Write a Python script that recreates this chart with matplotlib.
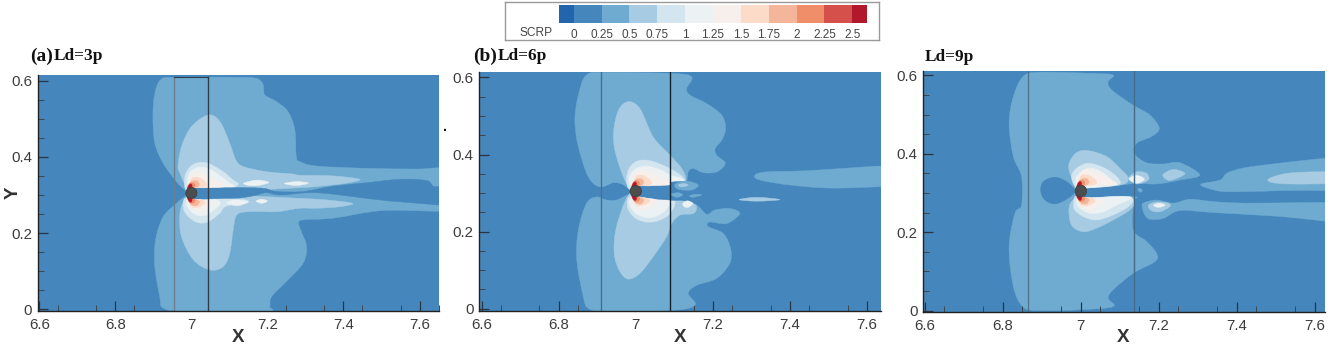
import numpy as np
import matplotlib
matplotlib.use('Agg')
import matplotlib.pyplot as plt
from matplotlib.path import Path
from matplotlib.patches import PathPatch, Circle

W, H = 1329, 345

# colour bar
SCRP_TICKS = [0, 0.25, 0.5, 0.75, 1, 1.25, 1.5, 1.75, 2, 2.25, 2.5]
SCRP_LABELS = ['0', '0.25', '0.5', '0.75', '1', '1.25', '1.5', '1.75', '2', '2.25', '2.5']
SCRP_COLORS = ['#2265ac', '#4587bd', '#6fabd1', '#a6cbe2', '#d3e5ef', '#ecf1f4',
               '#f7efeb', '#fddbc9', '#f4b69b', '#ef8e68', '#d6504b', '#b2182b']

X_TICKS = [6.6, 6.8, 7.0, 7.2, 7.4, 7.6]
X_LABELS = ['6.6', '6.8', '7', '7.2', '7.4', '7.6']
Y_TICKS = [0, 0.2, 0.4, 0.6]
Y_LABELS = ['0', '0.2', '0.4', '0.6']

# contour outlines, (x, y) in data units
# panel a
A_L1_UP = [(6.983,.313),(6.961,.335),(6.926,.383),(6.904,.436),(6.899,.506),(6.904,.567),(6.919,.602),(6.952,.609),
           (7.110,.609),(7.171,.606),(7.189,.589),(7.193,.563),(7.224,.545),(7.254,.519),(7.272,.471),(7.276,.401),
           (7.285,.388),(7.329,.376),(7.460,.370),(7.592,.368),(7.70,.368),(7.70,.30),(7.11,.30),(7.0,.30)]
A_L1_LOW = [(6.983,.296),(6.961,.278),(6.926,.243),(6.906,.182),(6.904,.112),(6.917,.033),(6.926,.003),(6.987,-.006),
            (7.197,-.006),(7.206,.007),(7.211,.033),(7.250,.073),(7.294,.121),(7.303,.165),(7.289,.204),(7.282,.228),
            (7.298,.235),(7.373,.239),(7.504,.259),(7.70,.261),(7.70,.313),(7.110,.313),(7.009,.309)]
A_L2_UP = [(6.987,.322),(6.970,.357),(6.965,.375),(6.974,.427),(7.000,.479),(7.044,.510),(7.075,.493),(7.101,.436),
           (7.117,.392),(7.136,.375),(7.197,.361),(7.268,.355),(7.285,.352),(7.373,.350),(7.443,.341),(7.408,.331),
           (7.338,.323),(7.285,.319),(7.1,.31),(7.01,.31)]
A_L2_LOW = [(6.983,.287),(6.970,.252),(6.974,.191),(7.005,.130),(7.049,.103),(7.084,.112),(7.101,.147),(7.110,.208),
            (7.120,.248),(7.154,.256),(7.224,.256),(7.285,.265),(7.329,.265),(7.390,.269),(7.424,.278),(7.355,.287),
            (7.285,.291),(7.1,.30),(7.01,.30)]
A_L3_UP = [(6.986,.313),(6.983,.348),(6.997,.374),(7.018,.385),(7.045,.383),(7.084,.361),(7.110,.339),(7.124,.329),
           (7.110,.320),(7.075,.315),(7.014,.317)]
A_L3_LOW = [(6.983,.291),(6.979,.265),(6.992,.243),(7.018,.227),(7.045,.230),(7.075,.252),(7.089,.269),(7.128,.278),
            (7.150,.282),(7.137,.288),(7.075,.291),(7.014,.291)]
A_L4_UP = [(6.992,.322),(6.992,.352),(7.010,.370),(7.036,.372),(7.067,.357),(7.102,.331),(7.115,.323),(7.097,.320),(7.014,.319)]
A_L4_LOW = [(6.988,.287),(6.992,.265),(7.014,.247),(7.040,.247),(7.058,.260),(7.075,.274),(7.067,.287),(7.014,.289)]
A_WAKE = [(6.997,.317),(7.093,.319),(7.154,.319),(7.194,.317),(7.224,.309),(7.294,.309),(7.373,.323),(7.460,.332),
          (7.548,.341),(7.618,.338),(7.636,.323),(7.653,.322),(7.70,.322),(7.70,.275),(7.548,.282),(7.460,.291),
          (7.373,.302),(7.312,.306),(7.233,.300),(7.198,.306),(7.172,.300),(7.137,.293),(7.093,.291),(6.997,.291)]
A_ISLE_1 = [(7.138,.331),(7.172,.339),(7.204,.333),(7.176,.325),(7.150,.325)]
A_ISLE_2 = [(7.244,.330),(7.277,.335),(7.308,.331),(7.277,.325)]
A_ISLE_3 = [(7.170,.284),(7.185,.289),(7.200,.284),(7.185,.278)]
A_ISLE_4 = [(7.093,.280),(7.115,.287),(7.150,.282),(7.124,.272),(7.106,.274)]

# panel b
B_L1_UP = [(6.985,.312),(6.965,.323),(6.942,.327),(6.907,.316),(6.877,.342),(6.851,.420),(6.842,.489),(6.851,.554),
           (6.872,.606),(6.924,.613),(7.097,.610),(7.145,.601),(7.132,.571),(7.141,.554),(7.184,.532),(7.223,.502),
           (7.233,.467),(7.223,.437),(7.206,.416),(7.210,.398),(7.232,.377),(7.210,.355),(7.175,.353),(7.149,.364),
           (7.136,.355),(7.128,.325),(7.089,.323),(7.011,.320)]
B_L1_LOW = [(6.985,.297),(6.950,.282),(6.924,.282),(6.898,.290),(6.872,.273),(6.851,.204),(6.847,.126),(6.864,.031),
            (6.877,.001),(6.924,-.007),(7.097,-.004),(7.154,.010),(7.136,.040),(7.158,.061),(7.210,.079),(7.244,.118),
            (7.246,.156),(7.227,.195),(7.188,.213),(7.192,.225),(7.236,.221),(7.270,.247),(7.244,.260),(7.205,.256),
            (7.184,.245),(7.158,.269),(7.123,.277),(7.089,.283),(7.011,.290)]
B_L2_UP = [(6.981,.316),(6.950,.394),(6.942,.454),(6.955,.515),(6.981,.537),(7.011,.519),(7.045,.446),(7.089,.398),
           (7.119,.364),(7.128,.334),(7.089,.325),(7.011,.320)]
B_L2_LOW = [(6.981,.295),(6.950,.213),(6.944,.143),(6.959,.096),(6.981,.077),(7.011,.092),(7.045,.135),(7.080,.187),
            (7.093,.221),(7.115,.243),(7.149,.247),(7.158,.264),(7.141,.277),(7.097,.282),(7.011,.290)]
B_L3_UP = [(6.983,.310),(6.976,.338),(6.985,.368),(7.007,.384),(7.037,.384),(7.076,.370),(7.110,.351),(7.128,.334),
           (7.123,.327),(7.089,.328),(7.011,.319)]
B_L3_LOW = [(6.983,.291),(6.978,.265),(6.994,.239),(7.020,.226),(7.050,.226),(7.080,.239),(7.097,.260),(7.102,.278),
            (7.089,.282),(7.011,.291)]
B_L4_UP = [(6.985,.321),(6.985,.347),(7.002,.364),(7.028,.370),(7.063,.361),(7.089,.347),(7.119,.338),(7.123,.327),
           (7.089,.328),(7.011,.319)]
B_L4_LOW = [(6.983,.282),(6.989,.260),(7.007,.243),(7.037,.236),(7.067,.247),(7.084,.265),(7.089,.280),(7.011,.291)]
B_WAKE = [(7.011,.318),(7.089,.328),(7.125,.330),(7.15,.32),(7.15,.285),(7.115,.282),(7.089,.282),(7.011,.291)]
B_BAND = [(7.309,.346),(7.339,.355),(7.443,.358),(7.70,.370),(7.70,.325),(7.521,.313),(7.400,.321),(7.322,.334)]
B_STREAK = [(7.268,.283),(7.314,.289),(7.374,.283),(7.314,.279)]
B_ISLE_1 = [(7.102,.323),(7.132,.331),(7.162,.321),(7.145,.308),(7.110,.310)]
B_ISLE_1B = [(7.110,.321),(7.125,.325),(7.136,.320),(7.119,.316)]
B_ISLE_2 = [(7.091,.297),(7.110,.301),(7.122,.295),(7.106,.289)]
B_ISLE_3 = [(7.139,.293),(7.156,.297),(7.171,.295),(7.149,.289)]
B_BLOB = [(7.122,.273),(7.134,.280),(7.148,.273),(7.136,.263),(7.125,.265)]

# panel c
C_L1 = [(6.848,.269),(6.848,.342),(6.827,.393),(6.816,.478),(6.827,.546),(6.852,.597),(6.895,.608),(7.032,.605),
        (7.083,.601),(7.070,.584),(7.079,.563),(7.134,.524),(7.177,.499),(7.201,.465),(7.181,.444),(7.143,.427),
        (7.136,.401),(7.169,.377),(7.211,.374),(7.254,.377),(7.305,.346),(7.254,.333),(7.194,.323),(7.143,.325),
        (7.100,.320),(6.998,.312),(6.998,.286),(7.100,.291),(7.143,.289),(7.136,.278),(7.134,.206),(7.169,.176),
        (7.194,.146),(7.190,.125),(7.134,.095),(7.083,.053),(7.070,.031),(7.083,.010),(6.998,.002),(6.895,0),
        (6.852,.009),(6.827,.061),(6.816,.163),(6.831,.248)]
C_HOLE = [(6.985,.305),(6.963,.329),(6.933,.340),(6.904,.329),(6.897,.305),(6.908,.282),(6.933,.272),(6.963,.284)]
C_BAND_LOW = [(7.160,.274),(7.194,.282),(7.237,.274),(7.280,.284),(7.340,.278),(7.425,.274),(7.70,.272),(7.70,.225),
              (7.511,.240),(7.340,.250),(7.254,.255),(7.211,.235),(7.177,.233),(7.164,.244),(7.158,.261)]
C_BAND_LOW_2 = [(7.173,.269),(7.194,.277),(7.224,.274),(7.228,.265),(7.203,.252),(7.181,.255)]
C_BAND_LOW_3 = [(7.186,.269),(7.201,.274),(7.216,.269),(7.199,.263)]
C_BAND_UP = [(7.307,.322),(7.357,.333),(7.382,.354),(7.468,.371),(7.70,.388),(7.70,.315),(7.511,.306),(7.382,.303),(7.340,.308)]
C_BAND_UP_2 = [(7.479,.333),(7.528,.350),(7.622,.354),(7.70,.348),(7.70,.327),(7.528,.323)]
C_ISLE_1 = [(7.210,.346),(7.237,.360),(7.267,.349),(7.228,.332)]
C_ISLE_2 = [(7.122,.337),(7.143,.354),(7.169,.350),(7.173,.333),(7.143,.323)]
C_ISLE_3 = [(7.124,.336),(7.143,.345),(7.163,.335),(7.143,.325)]
C_DOT = [(7.146,.310),(7.152,.312),(7.158,.306),(7.151,.302)]
C_L2_UP = [(6.989,.320),(6.972,.350),(6.970,.376),(6.989,.403),(7.019,.408),(7.066,.393),(7.100,.363),(7.122,.337),
           (7.100,.320),(6.998,.312)]
C_L2_LOW = [(6.989,.291),(6.970,.265),(6.976,.218),(7.006,.201),(7.040,.210),(7.083,.231),(7.126,.257),(7.136,.278),
            (7.100,.291),(6.998,.286)]
C_L3_UP = [(6.985,.316),(6.976,.342),(6.989,.363),(7.019,.376),(7.062,.363),(7.096,.337),(7.092,.320),(6.998,.312)]
C_L3_LOW = [(6.985,.291),(6.982,.261),(7.006,.240),(7.040,.231),(7.083,.244),(7.122,.265),(7.134,.284),(7.100,.291),(6.998,.286)]
C_L4_UP = [(6.989,.316),(6.989,.342),(7.019,.363),(7.053,.354),(7.083,.329),(7.087,.320),(6.998,.312)]
C_L4_LOW = [(6.989,.286),(6.993,.265),(7.023,.248),(7.058,.252),(7.092,.269),(7.130,.286),(7.109,.291),(6.998,.286)]

# the small high-value lobes at the cylinder look the same in all three panels
NEAR_L5_UP = [(6.995,.326),(6.997,.348),(7.014,.361),(7.040,.352),(7.067,.339),(7.089,.322),(7.014,.319)]
NEAR_L5_LOW = [(6.995,.282),(7.001,.265),(7.023,.256),(7.045,.269),(7.054,.282),(7.014,.288)]
NEAR_L6_UP = [(6.997,.326),(7.001,.344),(7.018,.346),(7.036,.335),(7.039,.323),(7.010,.319)]
NEAR_L6_LOW = [(6.997,.285),(7.001,.269),(7.018,.268),(7.036,.278),(7.027,.287)]
NEAR_L7_UP = [(6.995,.322),(7.001,.335),(7.014,.337),(7.021,.328),(7.014,.320)]
NEAR_L7_LOW = [(6.995,.287),(7.001,.274),(7.014,.272),(7.021,.282),(7.012,.288)]
NEAR_L8_UP = [(6.990,.318),(6.996,.331),(7.006,.331),(7.010,.324),(7.004,.318)]
NEAR_L8_LOW = [(6.990,.292),(6.996,.279),(7.006,.279),(7.010,.286),(7.004,.292)]
NEAR_L10_UP = [(6.989,.313),(6.993,.325),(6.999,.329),(7.002,.323),(6.997,.317)]
NEAR_L10_LOW = [(6.989,.296),(6.993,.285),(6.999,.281),(7.002,.287),(6.997,.293)]

# left and right vertical lines of each panel
A_LINES = [6.955, 7.045]
B_LINES = [6.909, 7.090]
C_LINES = [6.865, 7.137]
CYL_Y = 0.305
CYL_X = 7.0
CYL_R = 0.0148


def smooth_patch(pts, color, zorder):
    # closed Catmull-Rom curve through the read points, as cubic beziers
    pts = np.array(pts, dtype=float)
    prev_p = np.roll(pts, 1, axis=0)
    next_p = np.roll(pts, -1, axis=0)
    next2_p = np.roll(pts, -2, axis=0)
    verts = [pts[0]]
    codes = [Path.MOVETO]
    for p0, p1, p2, p3 in zip(prev_p, pts, next_p, next2_p):
        verts += [p1 + (p2 - p0) / 6, p2 - (p3 - p1) / 6, p2]
        codes += [Path.CURVE4, Path.CURVE4, Path.CURVE4]
    return PathPatch(Path(verts, codes), facecolor=color, edgecolor=color, linewidth=0.3, zorder=zorder)


def px_axes(fig, left, top, right, bottom):
    return fig.add_axes([left / W, 1 - bottom / H, (right - left) / W, (bottom - top) / H])


def draw_panel(fig, box, xlim, ylim, layers, lines, line_colors, closed_top=None):
    ax = px_axes(fig, *box)
    ax.set_facecolor(SCRP_COLORS[1])
    z = 1
    for pts, lev in layers:
        ax.add_patch(smooth_patch(pts, SCRP_COLORS[lev], z))
        z += 1
    near = [(NEAR_L5_UP, 6), (NEAR_L5_LOW, 6), (NEAR_L6_UP, 7), (NEAR_L6_LOW, 7), (NEAR_L7_UP, 8), (NEAR_L7_LOW, 8),
            (NEAR_L8_UP, 9), (NEAR_L8_LOW, 9), (NEAR_L10_UP, 11), (NEAR_L10_LOW, 11)]
    for pts, lev in near:
        ax.add_patch(smooth_patch(pts, SCRP_COLORS[lev], z))
        z += 1
    ax.add_patch(Circle((CYL_X, CYL_Y), CYL_R, facecolor='#4d4d4d', edgecolor='#3a3a3a', linewidth=0.5, zorder=z))

    top = closed_top if closed_top is not None else ylim[1]
    for xv, c in zip(lines, line_colors):
        ax.plot([xv, xv], [ylim[0], top], color=c, linewidth=1.0, zorder=z + 1)
    if closed_top is not None:
        ax.plot(lines, [top, top], color=line_colors[1], linewidth=0.8, zorder=z + 1)

    ax.set_xlim(*xlim)
    ax.set_ylim(*ylim)
    ax.set_xticks(X_TICKS)
    ax.set_xticklabels(X_LABELS)
    ax.set_yticks(Y_TICKS)
    ax.set_yticklabels(Y_LABELS)
    ax.set_xticks(np.arange(6.65, xlim[1], 0.1), minor=True)
    ax.set_yticks([0.05, 0.1, 0.15, 0.25, 0.3, 0.35, 0.45, 0.5, 0.55], minor=True)
    ax.tick_params(which='major', direction='in', length=7, width=0.9, color='#2a3440',
                   labelsize=10.8, labelcolor='#3c3c3c', pad=4, zorder=30)
    ax.tick_params(which='minor', direction='in', length=4, width=0.7, color='#3a4650', zorder=30)
    ax.tick_params(axis='x', which='major', pad=5)
    for s in ['top', 'right']:
        ax.spines[s].set_visible(False)
    for s in ['left', 'bottom']:
        ax.spines[s].set_linewidth(1.0)
        ax.spines[s].set_color('#222222')
        ax.spines[s].set_zorder(30)
    return ax


def draw_scale(fig):
    frame = px_axes(fig, 505, 2, 879, 40)
    frame.set_xticks([])
    frame.set_yticks([])
    for s in frame.spines.values():
        s.set_color('#9a9a9a')
        s.set_linewidth(1.0)
    cax = px_axes(fig, 559, 5, 867, 23)
    step = SCRP_TICKS[1] - SCRP_TICKS[0]
    edges = [SCRP_TICKS[0] - step * 0.53] + SCRP_TICKS + [SCRP_TICKS[-1] + step * 0.53]
    for i, c in enumerate(SCRP_COLORS):
        cax.axvspan(edges[i], edges[i + 1], color=c, linewidth=0)
    cax.set_xlim(edges[0], edges[-1])
    cax.set_xticks(SCRP_TICKS)
    cax.set_xticklabels(SCRP_LABELS, fontsize=8.5, color='#444444')
    cax.set_yticks([])
    cax.tick_params(axis='x', length=0, pad=4.2)
    for s in cax.spines.values():
        s.set_visible(False)
    fig.text(536 / W, 1 - 33 / H, 'SCRP', fontsize=8.6, color='#444444', ha='center', va='center')


plt.rcParams['font.family'] = ['Liberation Sans', 'DejaVu Sans']
fig = plt.figure(figsize=(W / 100, H / 100), dpi=100, facecolor='white')

draw_scale(fig)

draw_panel(fig, (37.7, 75, 439.3, 310.7), (6.596, 7.652), (-0.004, 0.615),
           [(A_L1_UP, 2), (A_L1_LOW, 2), (A_L2_UP, 3), (A_L2_LOW, 3), (A_L3_UP, 4), (A_L3_LOW, 4),
            (A_L4_UP, 5), (A_L4_LOW, 5), (A_WAKE, 1), (A_ISLE_1, 5), (A_ISLE_2, 5), (A_ISLE_3, 5), (A_ISLE_4, 5)],
           A_LINES, ['#6d7f8d', '#2f3d48'], closed_top=0.609)

draw_panel(fig, (479.3, 72, 881.3, 310.7), (6.594, 7.637), (-0.005, 0.614),
           [(B_L1_UP, 2), (B_L1_LOW, 2), (B_L2_UP, 3), (B_L2_LOW, 3), (B_L3_UP, 4), (B_L3_LOW, 4),
            (B_L4_UP, 5), (B_L4_LOW, 5), (B_WAKE, 1), (B_BAND, 2), (B_STREAK, 3), (B_ISLE_1, 2), (B_ISLE_1B, 3),
            (B_ISLE_2, 2), (B_ISLE_3, 2), (B_BLOB, 5)],
           B_LINES, ['#4a6f8c', '#15232e'])

draw_panel(fig, (923.3, 70.7, 1325, 311.7), (6.596, 7.626), (-0.003, 0.612),
           [(C_L1, 2), (C_HOLE, 1), (C_BAND_LOW, 2), (C_BAND_LOW_2, 3), (C_BAND_LOW_3, 5), (C_BAND_UP, 2),
            (C_BAND_UP_2, 3), (C_ISLE_1, 3), (C_L2_UP, 3), (C_L2_LOW, 3), (C_L3_UP, 4), (C_L3_LOW, 4),
            (C_L4_UP, 5), (C_L4_LOW, 5), (C_ISLE_2, 3), (C_ISLE_3, 5), (C_DOT, 2)],
           C_LINES, ['#52748e', '#456b88'])

# axis titles and panel captions
for xp in [238, 680, 1123]:
    fig.text(xp / W, 1 - 337 / H, 'X', fontsize=13.5, fontweight='bold', color='#333333', ha='center', va='center')
fig.text(13 / W, 1 - 193 / H, 'Y', fontsize=13.5, fontweight='bold', color='#333333', rotation=90, ha='center', va='center')

serif = ['Liberation Serif', 'DejaVu Serif']
for xp, s in [(30, '(a)'), (473, '(b)')]:
    fig.text(xp / W, 1 - 56 / H, s, fontsize=14, fontweight='bold', family=serif, color='#111111', ha='left', va='center')
for xp, yp, s in [(54, 56, 'Ld=3p'), (498, 56, 'Ld=6p'), (925, 57, 'Ld=9p')]:
    fig.text(xp / W, 1 - yp / H, s, fontsize=12.4, fontweight='bold', family=serif, color='#111111', ha='left', va='center')
fig.text(445 / W, 1 - 127 / H, '.', fontsize=10, fontweight='bold', color='#111111', ha='center', va='center')

fig.savefig('out.png', dpi=100, facecolor='white')
plt.close(fig)
